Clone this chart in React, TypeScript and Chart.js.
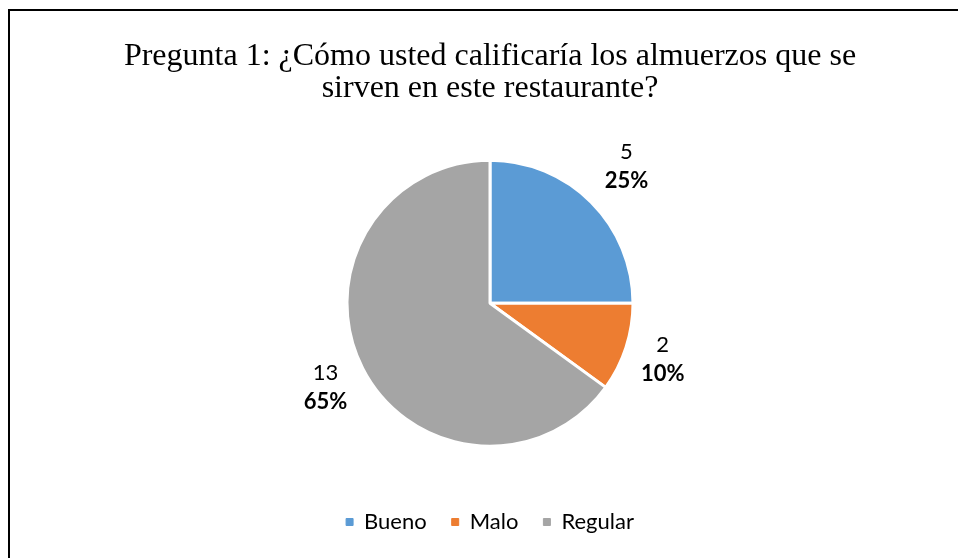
import { useEffect, useRef } from 'react';
import { Chart, registerables } from 'chart.js';

Chart.register(...registerables);

const categories = ['Bueno', 'Malo', 'Regular'];
const counts = [5, 2, 13];
const sliceColors = ['#5B9BD5', '#ED7D31', '#A5A5A5'];
const titleLines = [
  'Pregunta 1: ¿Cómo usted calificaría los almuerzos que se',
  'sirven en este restaurante?',
];

const LABEL_FONT = 'Lato';
const labelOffsets = [50, 38.6, 41.7];

const outLabels = {
  id: 'outLabels',
  afterDatasetsDraw(chart: any) {
    const meta = chart.getDatasetMeta(0);
    const ctx = chart.ctx;
    const total = counts.reduce((a, b) => a + b, 0);
    meta.data.forEach((arc: any, i: number) => {
      const p = arc.getProps(['x', 'y', 'startAngle', 'endAngle', 'outerRadius'], true);
      const mid = (p.startAngle + p.endAngle) / 2;
      const d = p.outerRadius + labelOffsets[i];
      const cx = p.x + Math.cos(mid) * d;
      const cy = p.y + Math.sin(mid) * d;
      ctx.save();
      ctx.fillStyle = '#000';
      ctx.textAlign = 'center';
      ctx.textBaseline = 'middle';
      ctx.font = `22px ${LABEL_FONT}`;
      ctx.fillText(String(counts[i]), cx, cy - 14.5);
      ctx.font = `bold 22px ${LABEL_FONT}`;
      ctx.fillText(Math.round((counts[i] / total) * 100) + '%', cx, cy + 14.5);
      ctx.restore();
    });
  },
};

export default function App() {
  const ref = useRef<HTMLCanvasElement>(null);
  useEffect(() => {
    const chart = new Chart(ref.current!, {
      type: 'pie',
      data: {
        labels: categories,
        datasets: [
          {
            data: counts,
            backgroundColor: sliceColors,
            borderColor: '#ffffff',
            borderWidth: 3,
          },
        ],
      },
      options: {
        responsive: false,
        animation: false,
        radius: 143,
        layout: { padding: { left: 12, right: 0, top: 0, bottom: 15 } },
        plugins: {
          title: {
            display: true,
            text: titleLines,
            color: '#000',
            font: { family: 'Liberation Serif', size: 32, weight: 'normal', lineHeight: 1.02 },
            padding: { top: 29, bottom: 15.3 },
          },
          legend: {
            position: 'bottom',
            labels: {
              color: '#000',
              font: { family: LABEL_FONT, size: 22 },
              boxWidth: 7,
              boxHeight: 7,
              padding: 25,
              generateLabels: (c: any) =>
                (Chart as any).overrides.pie.plugins.legend.labels
                  .generateLabels(c)
                  .map((l: any) => ({ ...l, strokeStyle: l.fillStyle, lineWidth: 1 })),
            },
          },
          tooltip: { enabled: false },
        },
      } as any,
      plugins: [outLabels],
    });
    return () => chart.destroy();
  }, []);
  return (
    <div
      style={{
        position: 'fixed',
        top: 9,
        left: 8,
        borderTop: '2px solid #000',
        borderLeft: '2px solid #000',
        width: 948,
        height: 547,
      }}
    >
      <canvas ref={ref} width={948} height={547} style={{ display: 'block' }} />
    </div>
  );
}
